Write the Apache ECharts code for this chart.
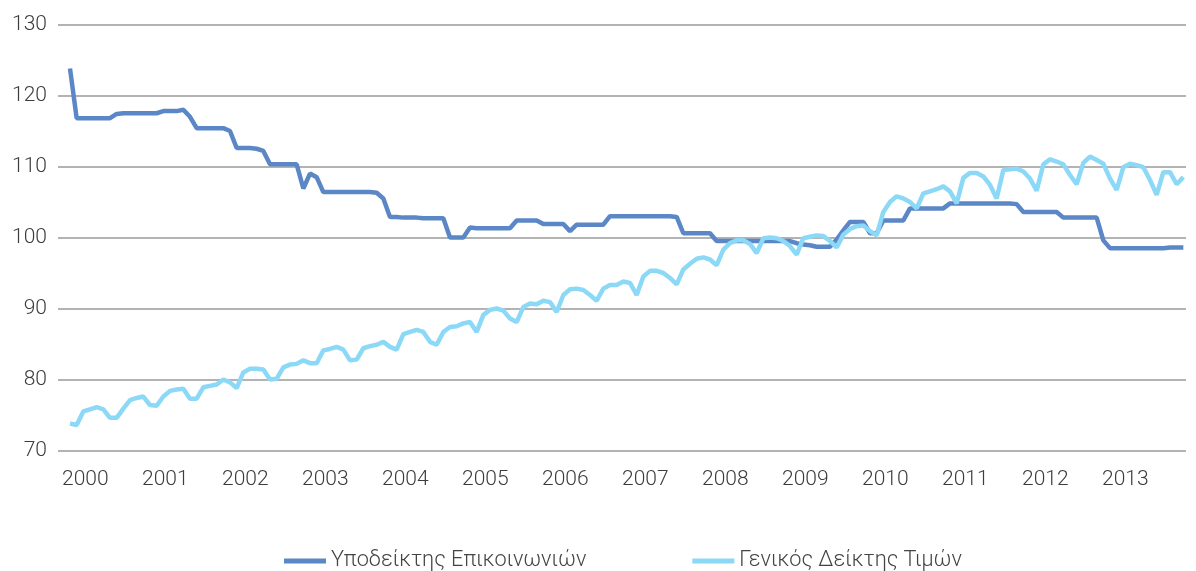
<!DOCTYPE html>
<html>
<head>
<meta charset="utf-8">
<script src="https://cdn.jsdelivr.net/npm/echarts@6/dist/echarts.min.js"></script>
<style>
html,body{margin:0;padding:0;background:#fff;}
#chart{width:1196px;height:571px;}
</style>
</head>
<body>
<div id="chart"></div>
<script>
// Years shown on the x axis (monthly data, Jan 2000 – Dec 2013)
var years = ['2000','2001','2002','2003','2004','2005','2006','2007','2008','2009','2010','2011','2012','2013'];

var seriesNames = ['Υποδείκτης Επικοινωνιών', 'Γενικός Δείκτης Τιμών'];

// Υποδείκτης Επικοινωνιών (monthly)
var communications = [
  123.8,
  116.8,116.8,116.8,116.8,116.8,116.8,
  117.4,
  117.5,117.5,117.5,117.5,117.5,117.5,
  117.8,117.8,117.8,
  118.0,117.0,
  115.4,115.4,115.4,115.4,115.4,
  115.0,
  112.6,112.6,112.6,112.5,
  112.2,
  110.3,110.3,110.3,110.3,110.3,
  106.9,109.0,108.5,
  106.4,106.4,106.4,106.4,106.4,106.4,106.4,106.4,106.3,
  105.5,
  102.9,102.9,102.8,102.8,102.8,
  102.7,102.7,102.7,102.7,
  100.0,100.0,100.0,
  101.4,101.3,101.3,101.3,101.3,101.3,101.3,
  102.4,102.4,102.4,102.4,
  101.9,101.9,101.9,101.9,
  100.9,
  101.8,101.8,101.8,101.8,101.8,
  103.0,103.0,103.0,103.0,103.0,103.0,103.0,103.0,103.0,103.0,102.9,
  100.6,100.6,100.6,100.6,100.6,
  99.5,99.5,99.5,99.5,99.5,99.5,99.5,99.5,99.5,99.5,99.5,99.5,
  99.2,99.0,98.9,
  98.7,98.7,98.7,
  99.7,101.0,
  102.2,102.2,102.2,
  100.6,100.6,
  102.4,102.4,102.4,102.4,
  104.1,104.1,104.1,104.1,104.1,104.1,
  104.8,104.8,104.8,104.8,104.8,104.8,104.8,104.8,104.8,104.8,104.7,
  103.6,103.6,103.6,103.6,103.6,103.6,
  102.8,102.8,102.8,102.8,102.8,102.8,
  99.6,
  98.5,98.5,98.5,98.5,98.5,98.5,98.5,98.5,98.5,
  98.6,98.6,98.6
];

// Γενικός Δείκτης Τιμών (monthly)
var cpi = [
  73.8,73.6,75.5,75.8,76.1,75.8,74.6,74.6,75.9,77.1,77.4,77.6,
  76.4,76.3,77.6,78.4,78.6,78.7,77.3,77.3,78.9,79.1,79.3,80.0,
  79.6,78.8,81.0,81.5,81.5,81.4,80.0,80.1,81.7,82.1,82.2,82.7,
  82.3,82.3,84.1,84.3,84.6,84.2,82.7,82.8,84.4,84.7,84.9,85.3,
  84.6,84.2,86.4,86.7,87.0,86.7,85.3,84.9,86.7,87.4,87.5,87.9,
  88.1,86.7,89.1,89.8,90.0,89.7,88.6,88.1,90.2,90.7,90.6,91.1,
  90.9,89.5,91.9,92.7,92.8,92.6,91.9,91.1,92.8,93.3,93.3,93.8,
  93.6,91.9,94.5,95.3,95.3,95.0,94.3,93.4,95.5,96.3,97.0,97.2,
  96.9,96.1,98.3,99.2,99.6,99.6,99.1,97.8,99.9,100.0,99.9,99.5,
  98.8,97.6,99.9,100.1,100.3,100.2,99.5,98.6,100.4,101.2,101.6,101.7,
  100.9,100.3,103.6,105.0,105.8,105.5,105.0,104.1,106.2,106.5,106.8,107.2,
  106.5,104.8,108.4,109.1,109.1,108.6,107.4,105.5,109.5,109.6,109.7,109.3,
  108.3,106.6,110.3,111.0,110.7,110.3,108.8,107.5,110.5,111.4,110.9,110.4,
  108.3,106.7,109.9,110.4,110.2,109.9,108.1,106.0,109.2,109.2,107.5,108.5
];

var yTicks = [70, 80, 90, 100, 110, 120, 130];

var FONT = 'Roboto';
var TEXT = '#3c3c3c';
var labelShift = 2.3; // year labels sit a little after January
var labelPositions = years.map(function (y, i) { return i * 12 + labelShift; });

function pairs(arr) { return arr.map(function (v, i) { return [i, v]; }); }

var chart = echarts.init(document.getElementById('chart'), null, {renderer: 'canvas'});
chart.setOption({
  animation: false,
  backgroundColor: '#ffffff',
  textStyle: {fontFamily: FONT},
  grid: {left: 58, right: 10, top: 24.5, bottom: 120.5, containLabel: false},
  legend: {
    left: 279, top: 545,
    itemWidth: 42, itemHeight: 5, itemGap: 106,
    icon: 'rect',
    textStyle: {fontFamily: FONT, fontWeight: 300, fontSize: 21.7, color: '#444444'},
    data: seriesNames
  },
  xAxis: {
    type: 'value',
    min: -1.8, max: communications.length - 1 + 0.4,
    axisLine: {show: false},
    axisTick: {show: false},
    splitLine: {show: false},
    axisLabel: {
      customValues: labelPositions,
      margin: 19,
      fontFamily: FONT, fontWeight: 300, fontSize: 21, color: TEXT,
      formatter: function (v) { return years[Math.round((v - labelShift) / 12)]; }
    }
  },
  yAxis: {
    type: 'value',
    min: yTicks[0], max: yTicks[yTicks.length - 1], interval: 10,
    axisLine: {show: false},
    axisTick: {show: false},
    splitLine: {show: true, lineStyle: {color: '#9a9a9a', width: 1.6}},
    axisLabel: {margin: 11, fontFamily: FONT, fontWeight: 300, fontSize: 21, color: TEXT}
  },
  series: [
    {
      name: seriesNames[0], type: 'line', showSymbol: false, symbol: 'none',
      data: pairs(communications),
      lineStyle: {color: '#5b87c6', width: 4.5},
      itemStyle: {color: '#5b87c6'}
    },
    {
      name: seriesNames[1], type: 'line', showSymbol: false, symbol: 'none',
      data: pairs(cpi),
      lineStyle: {color: '#8cd8f7', width: 4.5},
      itemStyle: {color: '#8cd8f7'}
    }
  ]
});
</script>
</body>
</html>
